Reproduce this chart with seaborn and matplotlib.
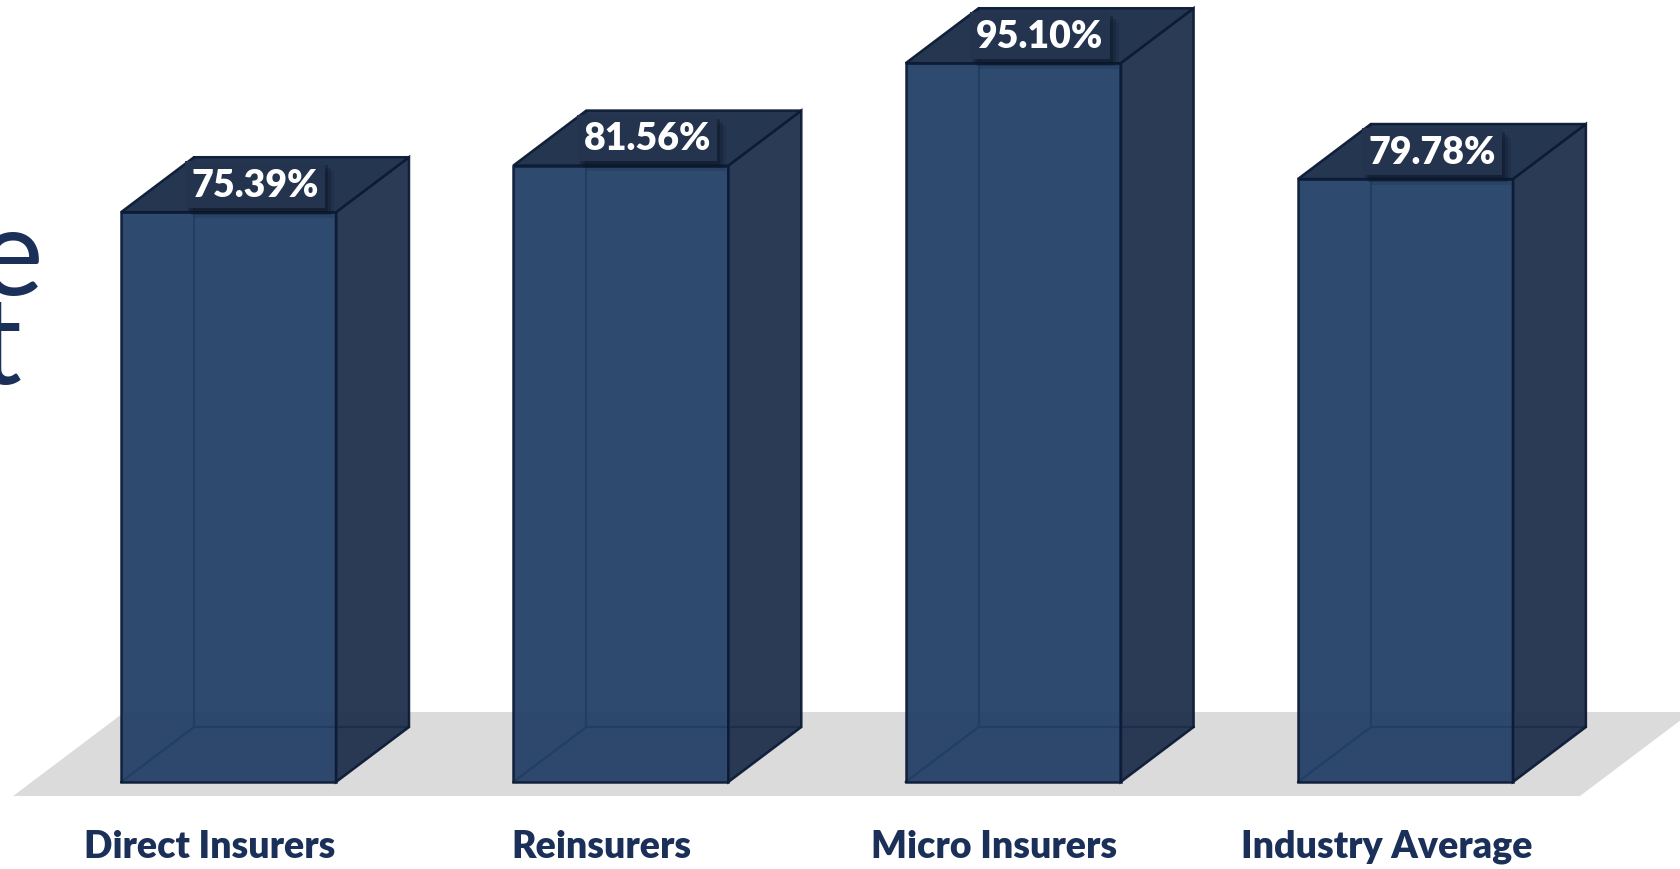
import matplotlib
matplotlib.use("Agg")
import matplotlib.pyplot as plt
import seaborn as sns
import pandas as pd
from matplotlib.patches import Polygon, Rectangle

# Share of premiums by insurer type
categories = ["Direct Insurers", "Reinsurers", "Micro Insurers", "Industry Average"]
values = [75.39, 81.56, 95.10, 79.78]
value_labels = ["75.39%", "81.56%", "95.10%", "79.78%"]

W, H, DPI = 1681, 870, 100

FRONT = "#234066"
SIDE = "#1f304c"
TOP = "#1c2e4a"
EDGE = "#0c1c36"
FLOOR = "#dcdbdc"
NAVY = "#1b3059"
LABEL_BOX = "#24344f"

sns.set_theme(style="white")
plt.rcParams["font.family"] = ["Lato", "DejaVu Sans"]

fig = plt.figure(figsize=(W / DPI, H / DPI), dpi=DPI)
fig.patch.set_facecolor("white")
ax = fig.add_axes([0, 0, 1, 1])

XLIM = (-0.5825, 3.7025)
YLIM = (-11.51, 103.6)
BAR_W = 0.548

df = pd.DataFrame({"category": categories, "value": values})
sns.barplot(data=df, x="category", y="value", ax=ax, color=FRONT, width=BAR_W,
            saturation=1, edgecolor=EDGE, linewidth=1.8, alpha=0.95, zorder=3)
ax.set_xlim(*XLIM)
ax.set_ylim(*YLIM)
ax.axis("off")

# pixel -> data scale, used for the oblique depth of each box
px_x = W / (XLIM[1] - XLIM[0])
px_y = H / (YLIM[1] - YLIM[0])
DX = 73 / px_x
DY = 55 / px_y

# floor plane under the bars
n = len(categories)
floor_lo, floor_hi = -1.85, 9.26
f_left = -BAR_W / 2 - 0.275
f_right = n - 1 + BAR_W / 2 + 0.171
slant = (floor_hi - floor_lo) / DY * DX
ax.add_patch(Polygon([(f_left, floor_lo), (f_right, floor_lo),
                      (f_right + slant, floor_hi), (f_left + slant, floor_hi)],
                     closed=True, facecolor=FLOOR, edgecolor="none", zorder=1))

tags = []
for i, p in enumerate(ax.patches[:n]):
    x0 = p.get_x()
    x1 = x0 + p.get_width()
    h = p.get_height()
    # back edges, visible through the translucent front
    for xs, ys in (([x0, x0 + DX], [0, DY]),
                   ([x0 + DX, x0 + DX], [DY, h + DY]),
                   ([x0 + DX, x1 + DX], [DY, DY])):
        ax.plot(xs, ys, color=EDGE, lw=1.6, zorder=2.5)
    # right side
    ax.add_patch(Polygon([(x1, 0), (x1 + DX, DY), (x1 + DX, h + DY), (x1, h)],
                         closed=True, facecolor=SIDE, edgecolor=EDGE, lw=1.8,
                         alpha=0.95, zorder=4))
    # top
    ax.add_patch(Polygon([(x0, h), (x1, h), (x1 + DX, h + DY), (x0 + DX, h + DY)],
                         closed=True, facecolor=TOP, edgecolor=EDGE, lw=1.8,
                         alpha=0.96, zorder=4))
    # value tag on the top face
    cx = (x0 + x1) / 2 + DX / 2 - 10 / px_x
    cy = h + DY / 2
    tags.append(ax.text(cx, cy, value_labels[i], ha="center", va="center",
                        fontsize=27, fontweight="heavy", color="white",
                        bbox=dict(boxstyle="square,pad=0.17", facecolor=LABEL_BOX,
                                  edgecolor="none"), zorder=6))
    # category label below the floor
    ax.text(i - 19 / px_x, -8.47, categories[i], ha="center", va="center",
            fontsize=27, fontweight="heavy", color=NAVY, zorder=6)

# soft drop shadow behind each value tag
fig.canvas.draw()
for t in tags:
    bb = t.get_bbox_patch().get_window_extent()
    for ox, oy, a in [(3, -4, 0.35), (6, -7, 0.25), (9, -10, 0.12)]:
        ax.add_patch(Rectangle((bb.x0 + ox, bb.y0 + oy), bb.width, bb.height,
                               transform=None, facecolor="#0b1322",
                               edgecolor="none", alpha=a, zorder=5))

# slide title running off the left edge
fig.text(43, 575, "e", transform=None, ha="right", va="baseline",
         fontsize=88, fontweight="normal", color=NAVY)
fig.text(-23, 486, "t", transform=None, ha="left", va="baseline",
         fontsize=88, fontweight="normal", color=NAVY)

fig.savefig("out.png", dpi=DPI, facecolor="white")
